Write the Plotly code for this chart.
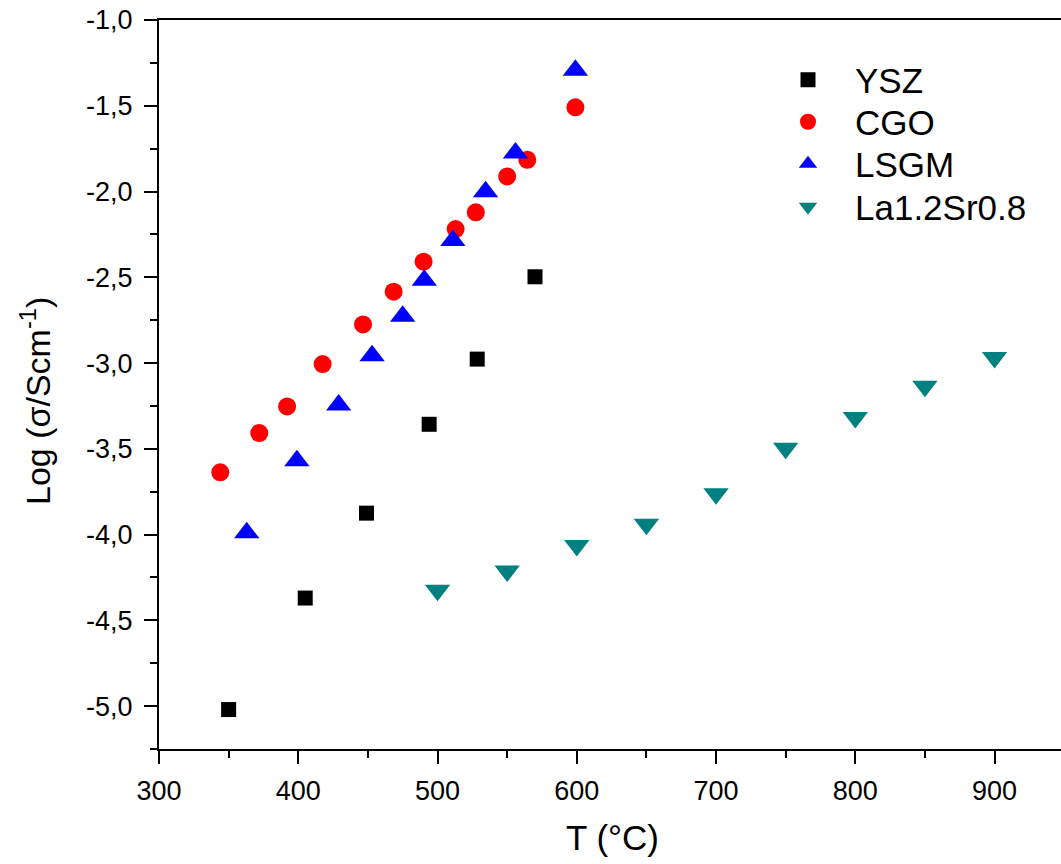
import plotly.graph_objects as go

# ---- data ----
series_names = ["YSZ", "CGO", "LSGM", "La1.2Sr0.8"]
ysz_T = [350, 405, 449, 494, 528.5, 570]
ysz_logsigma = [-5.02, -4.37, -3.875, -3.357, -2.977, -2.497]
cgo_T = [344, 372, 392, 417.5, 446.5, 468.5, 490, 513, 527.5, 550, 564.5, 599]
cgo_logsigma = [-3.637, -3.408, -3.253, -3.006, -2.775, -2.584, -2.409, -2.219,
                -2.121, -1.912, -1.815, -1.509]
lsgm_T = [363, 399, 429, 453, 475, 490.5, 511, 534.5, 556, 599]
lsgm_logsigma = [-3.99, -3.57, -3.245, -2.958, -2.727, -2.517, -2.286, -2.002, -1.775, -1.293]
la_T = [500, 550, 600, 650, 700, 750, 800, 850, 900]
la_logsigma = [-4.325, -4.213, -4.063, -3.94, -3.762, -3.497, -3.317, -3.135, -2.968]

y_tickvals = [-1.0, -1.5, -2.0, -2.5, -3.0, -3.5, -4.0, -4.5, -5.0]
y_ticktext = ["-1,0", "-1,5", "-2,0", "-2,5", "-3,0", "-3,5", "-4,0", "-4,5", "-5,0"]
x_tickvals = [300, 400, 500, 600, 700, 800, 900]
x_ticktext = ["300", "400", "500", "600", "700", "800", "900"]

x_range = [300, 951.3]
y_range = [-5.25, -1.0]

FONT = "Arial, 'Liberation Sans', Helvetica, sans-serif"

# plot box in page pixels (page margin removed by post_script below);
# the plot runs a few pixels past the right edge of the 1061 px window, as in the reference
PL, PT, PB, PR = 159, 20, 749, 1066
PW, PH = PR - PL, PB - PT
W, H = 1066, 864


def px_to_paper_x(px):
    return (px - PL) / PW


def px_to_paper_y(py):
    return (PB - py) / PH


fig = go.Figure()
styles = [
    (ysz_T, ysz_logsigma, "square", "#000000", 15),
    (cgo_T, cgo_logsigma, "circle", "#FF0000", 18),
    (lsgm_T, lsgm_logsigma, "triangle-up", "#0000FF", 22),
    (la_T, la_logsigma, "triangle-down", "#008080", 22),
]
legend_ids = ["legend", "legend2", "legend3", "legend4"]
legend_rows = [80, 122, 164, 207]

for name, (xs, ys, sym, col, sz), lid in zip(series_names, styles, legend_ids):
    fig.add_trace(go.Scatter(
        x=xs, y=ys, mode="markers", name=name, legend=lid,
        marker=dict(symbol=sym, color=col, size=sz, line=dict(width=0)),
    ))

axis_common = dict(
    showgrid=False, zeroline=False, showline=True, linecolor="black", linewidth=2,
    ticks="outside", ticklen=13, tickwidth=2, tickcolor="black",
    tickfont=dict(family=FONT, size=27, color="black"),
    ticklabeloverflow="allow",
)

fig.update_xaxes(
    range=x_range, tickmode="array", tickvals=x_tickvals, ticktext=x_ticktext,
    mirror=True,
    minor=dict(ticks="outside", ticklen=7, tickwidth=2, tickcolor="black",
               tickmode="linear", tick0=350, dtick=100),
    title=dict(text="T (°C)", font=dict(family=FONT, size=35, color="black"), standoff=20),
    ticklabelstandoff=4,
    **axis_common,
)
fig.update_yaxes(
    range=y_range, tickmode="array", tickvals=y_tickvals, ticktext=y_ticktext,
    minor=dict(ticks="outside", ticklen=7, tickwidth=2, tickcolor="black",
               tickmode="linear", tick0=-1.25, dtick=0.5),
    ticklabelstandoff=6,
    **axis_common,
)

fig.add_annotation(
    text="Log (σ/Scm<sup>-1</sup>)", textangle=-90, showarrow=False,
    xref="paper", yref="paper", x=px_to_paper_x(36), y=px_to_paper_y(401),
    xanchor="center", yanchor="middle",
    font=dict(family=FONT, size=34, color="black"),
)

legend_layout = {}
for lid, row in zip(legend_ids, legend_rows):
    legend_layout[lid] = dict(
        x=px_to_paper_x(761), y=px_to_paper_y(row), xanchor="left", yanchor="middle",
        font=dict(family=FONT, size=35, color="black"),
        itemwidth=84, bgcolor="rgba(0,0,0,0)", borderwidth=0,
    )

fig.update_layout(
    width=W, height=H,
    margin=dict(l=PL, r=W - PR, t=PT, b=H - PB),
    plot_bgcolor="white", paper_bgcolor="white",
    font=dict(family=FONT, color="black"),
    showlegend=True,
    **legend_layout,
)

fig.write_html(
    "out.html",
    config={"displayModeBar": False},
    post_script="document.body.style.margin='0';document.body.style.overflow='hidden';",
)
